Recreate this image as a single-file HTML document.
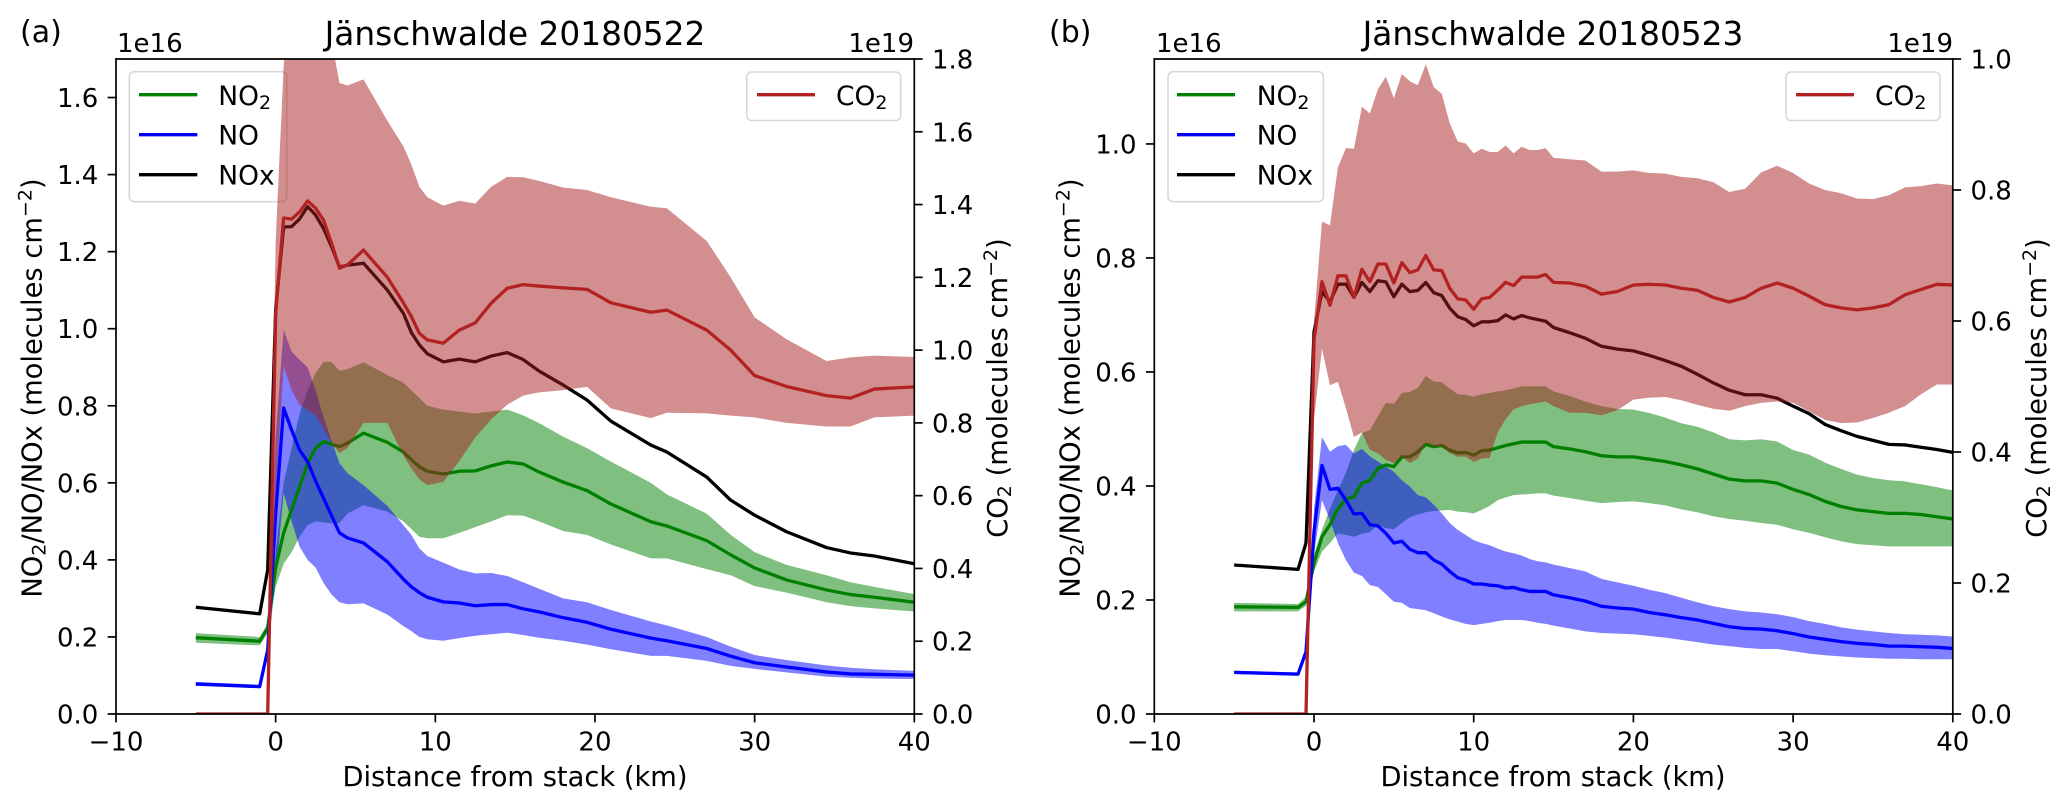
<!DOCTYPE html>
<html lang="en">
<head>
<meta charset="utf-8">
<title>Jänschwalde plume profiles</title>
<style>
html,body{margin:0;padding:0;background:#fff;}
svg{display:block;}
text{font-family:"DejaVu Sans","Liberation Sans",sans-serif;fill:#000;}
.tick-text{font-size:26px;}
.axis-title{font-size:27.3px;}
.plot-title{font-size:32.8px;}
.legend-text{font-size:26.5px;}
</style>
</head>
<body>
<svg id="figure" xmlns="http://www.w3.org/2000/svg" width="2067" height="808" viewBox="0 0 2067 808">
<defs>
<clipPath id="clip-a"><rect x="116" y="59" width="798.3" height="655"/></clipPath>
<clipPath id="clip-b"><rect x="1154.3" y="59" width="798.5" height="655"/></clipPath>
</defs>

<!-- Panel (a) -->
<g>
<g id="a-left-marks" clip-path="url(#clip-a)"></g>
<g>
<rect x="129.3" y="71.7" width="157.4" height="130" rx="5" fill="#fff" fill-opacity="0.8" stroke="#d8d8d8" stroke-width="1.6"/>
<line x1="139" x2="197.3" y1="94.7" y2="94.7" stroke="#008000" stroke-width="3.3"/>
<text class="legend-text" x="218.3" y="105">NO<tspan font-size="19" dy="4">2</tspan></text>
<line x1="139" x2="197.3" y1="134.7" y2="134.7" stroke="#0000ff" stroke-width="3.3"/>
<text class="legend-text" x="218.3" y="144.5">NO</text>
<line x1="139" x2="197.3" y1="174.7" y2="174.7" stroke="#000" stroke-width="3.3"/>
<text class="legend-text" x="218.3" y="184.5">NOx</text>
</g>
<g id="a-right-marks" clip-path="url(#clip-a)"></g>
<g>
<rect x="746.7" y="72" width="154" height="48.5" rx="5" fill="#fff" fill-opacity="0.8" stroke="#d8d8d8" stroke-width="1.6"/>
<line x1="757" x2="815" y1="94.7" y2="94.7" stroke="#b22222" stroke-width="3.3"/>
<text class="legend-text" x="836" y="105">CO<tspan font-size="19" dy="4">2</tspan></text>
</g>
<g id="a-axes"></g>
<text x="20" y="42" font-size="30">(a)</text>
<text class="plot-title" x="515" y="45" text-anchor="middle">Jänschwalde 20180522</text>
<text class="tick-text" x="117" y="52">1e16</text>
<text class="tick-text" x="914" y="52" text-anchor="end">1e19</text>
<text class="axis-title" x="515" y="786" text-anchor="middle">Distance from stack (km)</text>
<text class="axis-title" transform="translate(41.7 388) rotate(-90)" text-anchor="middle">NO<tspan font-size="19" dy="4">2</tspan><tspan dy="-4">/NO/NOx (molecules cm</tspan><tspan font-size="19" dy="-10">−2</tspan><tspan dy="10">)</tspan></text>
<text class="axis-title" transform="translate(1007 388) rotate(-90)" text-anchor="middle">CO<tspan font-size="19" dy="4">2</tspan><tspan dy="-4"> (molecules cm</tspan><tspan font-size="19" dy="-10">−2</tspan><tspan dy="10">)</tspan></text>
</g>

<!-- Panel (b) -->
<g>
<g id="b-left-marks" clip-path="url(#clip-b)"></g>
<g>
<rect x="1168" y="71.7" width="155.4" height="130" rx="5" fill="#fff" fill-opacity="0.8" stroke="#d8d8d8" stroke-width="1.6"/>
<line x1="1177" x2="1235" y1="94.7" y2="94.7" stroke="#008000" stroke-width="3.3"/>
<text class="legend-text" x="1256.7" y="105">NO<tspan font-size="19" dy="4">2</tspan></text>
<line x1="1177" x2="1235" y1="134.7" y2="134.7" stroke="#0000ff" stroke-width="3.3"/>
<text class="legend-text" x="1256.7" y="144.5">NO</text>
<line x1="1177" x2="1235" y1="174.7" y2="174.7" stroke="#000" stroke-width="3.3"/>
<text class="legend-text" x="1256.7" y="184.5">NOx</text>
</g>
<g id="b-right-marks" clip-path="url(#clip-b)"></g>
<g>
<rect x="1786" y="72" width="154" height="48.5" rx="5" fill="#fff" fill-opacity="0.8" stroke="#d8d8d8" stroke-width="1.6"/>
<line x1="1796" x2="1854" y1="94.7" y2="94.7" stroke="#b22222" stroke-width="3.3"/>
<text class="legend-text" x="1875" y="105">CO<tspan font-size="19" dy="4">2</tspan></text>
</g>
<g id="b-axes"></g>
<text x="1049" y="42" font-size="30">(b)</text>
<text class="plot-title" x="1553" y="45" text-anchor="middle">Jänschwalde 20180523</text>
<text class="tick-text" x="1156" y="52">1e16</text>
<text class="tick-text" x="1953" y="52" text-anchor="end">1e19</text>
<text class="axis-title" x="1553" y="786" text-anchor="middle">Distance from stack (km)</text>
<text class="axis-title" transform="translate(1079.3 388) rotate(-90)" text-anchor="middle">NO<tspan font-size="19" dy="4">2</tspan><tspan dy="-4">/NO/NOx (molecules cm</tspan><tspan font-size="19" dy="-10">−2</tspan><tspan dy="10">)</tspan></text>
<text class="axis-title" transform="translate(2046 388) rotate(-90)" text-anchor="middle">CO<tspan font-size="19" dy="4">2</tspan><tspan dy="-4"> (molecules cm</tspan><tspan font-size="19" dy="-10">−2</tspan><tspan dy="10">)</tspan></text>
</g>
</svg>

<script>
// ---------- Shared tick values ----------
const xTicks = [-10, 0, 10, 20, 30, 40];
const aLeftTicks = [0, 0.2, 0.4, 0.6, 0.8, 1.0, 1.2, 1.4, 1.6];
const aRightTicks = [0, 0.2, 0.4, 0.6, 0.8, 1.0, 1.2, 1.4, 1.6, 1.8];
const bLeftTicks = [0, 0.2, 0.4, 0.6, 0.8, 1.0];
const bRightTicks = [0, 0.2, 0.4, 0.6, 0.8, 1.0];

// ---------- Panel (a): distance (km) ----------
const aDistance = [-5,-1,-0.5,0, 0.5,1,1.5,2,2.5,3,3.5,4,4.5,5.5, 7,8,8.5,9,9.5,10.5,11.5,12.5,13.5,14.5, 15.5,16.5,18,19.5,21,23.5,24.5,27,28.5,30, 32,34.5,36,37.5,40];
// NOx family in 1e16 molecules/cm2
const aNOx = [.277,.26,.374,1.05, 1.264,1.265,1.285,1.317,1.295,1.26,1.213,1.16,1.165,1.17, 1.10,1.04,.99,.958,.935,.914,.921,.914,.929,.938, .92,.89,.854,.815,.76,.698,.68,.615,.555,.516, .473,.432,.418,.41,.39];
const aNO2 = [.198,.189,.223,.38, .47,.53,.59,.65,.69,.707,.70,.694,.703,.729, .705,.68,.66,.642,.63,.623,.63,.631,.644,.654, .649,.628,.602,.58,.545,.499,.488,.45,.413,.379, .348,.322,.31,.303,.29];
const aNO2High = [.21,.20,.235,.42, .6,.69,.78,.84,.885,.914,.914,.891,.895,.913, .88,.86,.84,.82,.80,.79,.785,.78,.785,.79, .775,.755,.72,.69,.655,.60,.57,.52,.465,.42, .387,.36,.342,.33,.311];
const aNO2Low = [.185,.178,.21,.33, .39,.42,.46,.49,.50,.497,.495,.496,.52,.542, .525,.50,.48,.46,.456,.456,.47,.485,.50,.516, .515,.50,.475,.465,.44,.404,.404,.376,.36,.332, .315,.29,.28,.274,.266];
const aNO = [.078,.071,.166,.52, .794,.737,.685,.655,.605,.56,.515,.47,.457,.444, .395,.35,.33,.315,.303,.291,.288,.281,.284,.284, .273,.265,.25,.238,.22,.197,.19,.17,.15,.133, .122,.109,.104,.103,.101];
const aNOHigh = [.083,.076,.17,.72, .997,.94,.919,.90,.84,.77,.71,.651,.625,.594, .54,.49,.465,.43,.41,.393,.375,.365,.366,.358, .342,.325,.30,.29,.27,.24,.23,.2,.175,.153, .14,.126,.12,.116,.112];
const aNOLow = [.073,.067,.16,.35, .573,.50,.434,.40,.38,.34,.31,.29,.285,.287, .258,.228,.215,.20,.194,.19,.197,.203,.207,.211, .205,.198,.19,.18,.168,.151,.151,.138,.125,.117, .108,.097,.094,.092,.091];
// CO2 in 1e19 molecules/cm2
const aCO2 = [0,0,0,1.1, 1.363,1.36,1.38,1.41,1.39,1.357,1.294,1.225,1.234,1.275, 1.20,1.13,1.092,1.046,1.028,1.019,1.055,1.075,1.129,1.17, 1.18,1.176,1.171,1.167,1.13,1.104,1.11,1.055,1.0,.93, .90,.875,.868,.893,.899];
const aCO2High = [0,0,0,1.3, 1.78,2.0,2.3,2.4,2.4,2.3,1.85,1.734,1.727,1.744, 1.63,1.56,1.51,1.449,1.42,1.397,1.41,1.403,1.449,1.476, 1.475,1.465,1.447,1.44,1.42,1.394,1.39,1.30,1.2,1.09, 1.03,.97,.98,.985,.981];
const aCO2Low = [0,0,0,.6, .956,.89,.85,.835,.82,.785,.745,.717,.731,.80, .80,.71,.675,.645,.629,.638,.695,.76,.81,.85, .875,.884,.89,.899,.84,.813,.828,.826,.82,.815, .80,.79,.79,.815,.82];

// ---------- Panel (b): distance (km) ----------
const bDistance = [-5,-1,-0.5,0, 0.5,1,1.5,2,2.5,3,3.5,4,4.5,5, 5.5,6,6.5,7,7.5,8,8.5,9,9.5,10, 10.5,11,11.5,12,12.5,13,13.5,14,14.5,15, 16,17,18,19,20,21,22,23,24,25,26,27,28,29,30,31,32,33,34,35,36,37,38,39,40];
const bNOx = [.2614,.2537,.30,.67, .741,.723,.754,.754,.731,.757,.741,.76,.758,.732, .754,.741,.743,.757,.739,.734,.712,.697,.692,.681, .688,.688,.69,.70,.693,.699,.695,.692,.689,.678, .669,.659,.645,.64,.637,.629,.62,.61,.596,.581,.568,.56,.56,.554,.54,.527,.508,.497,.487,.48,.473,.472,.468,.464,.459];
const bNO2 = [.188,.187,.197,.265, .311,.332,.36,.377,.381,.405,.41,.431,.437,.434, .451,.451,.46,.473,.469,.471,.463,.458,.459,.454, .462,.463,.467,.471,.474,.477,.477,.477,.477,.469, .465,.46,.453,.451,.451,.447,.443,.437,.43,.421,.412,.409,.409,.405,.394,.385,.373,.364,.358,.355,.352,.352,.35,.346,.342];
const bNO2High = [.195,.193,.205,.28, .323,.36,.393,.423,.463,.493,.498,.522,.546,.544, .563,.565,.572,.593,.583,.582,.571,.561,.56,.557, .561,.563,.566,.568,.571,.575,.575,.575,.575,.566, .558,.548,.54,.535,.534,.528,.52,.51,.504,.494,.482,.48,.482,.478,.463,.455,.441,.43,.42,.414,.41,.408,.403,.398,.392];
const bNO2Low = [.18,.18,.19,.25, .285,.30,.317,.314,.311,.316,.319,.332,.326,.324, .335,.345,.35,.354,.356,.357,.358,.355,.354,.352, .358,.365,.375,.38,.384,.385,.386,.387,.387,.383, .379,.374,.37,.372,.373,.37,.366,.359,.354,.347,.342,.339,.335,.332,.324,.318,.31,.303,.298,.296,.294,.294,.294,.294,.294];
const bNO = [.073,.07,.109,.32, .436,.394,.396,.375,.351,.352,.332,.33,.317,.30, .303,.289,.283,.283,.27,.263,.25,.239,.235,.228, .228,.226,.225,.221,.222,.218,.215,.215,.215,.209, .204,.198,.189,.186,.184,.178,.174,.169,.165,.159,.153,.15,.149,.146,.141,.135,.131,.127,.124,.122,.119,.119,.118,.117,.115];
const bNOHigh = [.076,.073,.113,.36, .486,.46,.47,.472,.457,.465,.452,.443,.434,.425, .41,.399,.384,.38,.367,.352,.335,.323,.314,.305, .30,.296,.29,.285,.282,.278,.272,.268,.266,.262, .256,.25,.237,.231,.225,.218,.212,.204,.196,.189,.184,.18,.178,.175,.17,.163,.158,.152,.148,.145,.142,.14,.139,.138,.136];
const bNOLow = [.07,.067,.105,.28, .375,.34,.30,.27,.248,.242,.226,.223,.21,.197, .195,.186,.184,.182,.177,.171,.166,.162,.158,.156, .158,.16,.163,.165,.165,.165,.163,.16,.158,.155, .15,.145,.142,.141,.14,.137,.134,.13,.126,.122,.119,.116,.114,.114,.11,.106,.103,.101,.099,.098,.097,.097,.096,.096,.096];
const bCO2 = [0,0,0,.571, .66,.624,.669,.669,.636,.679,.66,.687,.687,.658, .689,.674,.678,.70,.678,.677,.65,.634,.632,.618, .634,.636,.647,.659,.654,.667,.667,.667,.671,.659, .658,.653,.641,.645,.655,.656,.655,.65,.647,.636,.629,.636,.65,.658,.65,.638,.625,.62,.617,.62,.625,.64,.648,.656,.655];
const bCO2High = [0,0,0,.60, .752,.746,.835,.864,.863,.927,.917,.954,.973,.94, .977,.966,.96,.992,.957,.947,.902,.874,.871,.856, .863,.858,.858,.868,.856,.866,.861,.861,.864,.849, .847,.845,.828,.828,.83,.826,.825,.82,.818,.812,.797,.802,.827,.837,.826,.81,.80,.795,.787,.786,.792,.804,.806,.81,.807];
const bCO2Low = [0,0,0,.45, .558,.502,.507,.467,.423,.43,.403,.398,.388,.383, .393,.383,.39,.414,.408,.408,.398,.393,.393,.385, .39,.391,.43,.45,.465,.47,.473,.475,.477,.47, .46,.46,.456,.464,.48,.483,.484,.479,.472,.466,.463,.47,.475,.477,.475,.462,.449,.444,.445,.452,.46,.47,.488,.503,.503];

// ---------- Drawing ----------
const SVG_NS = 'http://www.w3.org/2000/svg';
const AXIS_TOP = 59;
const AXIS_BOTTOM = 714;

function makeX(left, right) {
  return function (km) { return left + (km + 10) / 50 * (right - left); };
}
function makeY(maxValue) {
  return function (v) { return AXIS_BOTTOM - v / maxValue * (AXIS_BOTTOM - AXIS_TOP); };
}
function linePath(xs, ys, xf, yf) {
  return xs.map(function (x, i) {
    return (i ? 'L' : 'M') + xf(x).toFixed(2) + ' ' + yf(ys[i]).toFixed(2);
  }).join('');
}
function bandPath(xs, lo, hi, xf, yf) {
  let d = linePath(xs, hi, xf, yf);
  for (let i = xs.length - 1; i >= 0; i--) {
    d += 'L' + xf(xs[i]).toFixed(2) + ' ' + yf(lo[i]).toFixed(2);
  }
  return d + 'Z';
}
function addBand(parent, name, d, color) {
  const el = document.createElementNS(SVG_NS, 'path');
  
  
  el.setAttribute('d', d);
  el.setAttribute('fill', color);
  el.setAttribute('fill-opacity', '0.5');
  el.setAttribute('stroke', 'none');
  parent.appendChild(el);
}
function addLine(parent, name, d, color) {
  const el = document.createElementNS(SVG_NS, 'path');
  
  
  el.setAttribute('d', d);
  el.setAttribute('fill', 'none');
  el.setAttribute('stroke', color);
  el.setAttribute('stroke-width', '3.3');
  el.setAttribute('stroke-linejoin', 'round');
  parent.appendChild(el);
}
function addSegment(parent, name, x1, y1, x2, y2) {
  const el = document.createElementNS(SVG_NS, 'line');
  
  
  el.setAttribute('x1', x1);
  el.setAttribute('y1', y1);
  el.setAttribute('x2', x2);
  el.setAttribute('y2', y2);
  el.setAttribute('stroke', '#000');
  el.setAttribute('stroke-width', '1.7');
  el.setAttribute('stroke-linecap', 'square');
  parent.appendChild(el);
}
function addTickLabel(parent, name, x, y, anchor, label) {
  const el = document.createElementNS(SVG_NS, 'text');
  
  
  el.setAttribute('class', 'tick-text');
  el.setAttribute('x', x);
  el.setAttribute('y', y);
  el.setAttribute('text-anchor', anchor);
  el.textContent = label;
  parent.appendChild(el);
}
function formatX(v) { return v < 0 ? '\u2212' + Math.abs(v) : String(v); }

function drawAxes(parent, left, right, xf, yLeft, yRight, leftTicks, rightTicks) {
  addSegment(parent, 'left-spine', left, AXIS_TOP, left, AXIS_BOTTOM);
  addSegment(parent, 'right-spine', right, AXIS_TOP, right, AXIS_BOTTOM);
  addSegment(parent, 'top-spine', left, AXIS_TOP, right, AXIS_TOP);
  addSegment(parent, 'bottom-spine', left, AXIS_BOTTOM, right, AXIS_BOTTOM);
  xTicks.forEach(function (t) {
    addSegment(parent, 'x-tick', xf(t), AXIS_BOTTOM, xf(t), AXIS_BOTTOM + 7.5);
    addTickLabel(parent, 'x-tick-label', xf(t), 750.7, 'middle', formatX(t));
  });
  leftTicks.forEach(function (t) {
    addSegment(parent, 'left-y-tick', left, yLeft(t), left - 7.5, yLeft(t));
    addTickLabel(parent, 'left-y-tick-label', left - 17.7, yLeft(t) + 9.5, 'end', t.toFixed(1));
  });
  rightTicks.forEach(function (t) {
    addSegment(parent, 'right-y-tick', right, yRight(t), right + 7.5, yRight(t));
    addTickLabel(parent, 'right-y-tick-label', right + 17.7, yRight(t) + 9.5, 'start', t.toFixed(1));
  });
}

// Panel (a)
(function () {
  const left = 116, right = 914.3;
  const xf = makeX(left, right);
  const yL = makeY(1.7);
  const yR = makeY(1.8);
  const lg = document.getElementById('a-left-marks');
  const rg = document.getElementById('a-right-marks');
  addBand(lg, 'no2-uncertainty-band', bandPath(aDistance, aNO2Low, aNO2High, xf, yL), '#008000');
  addBand(lg, 'no-uncertainty-band', bandPath(aDistance, aNOLow, aNOHigh, xf, yL), '#0000ff');
  addLine(lg, 'no2-line', linePath(aDistance, aNO2, xf, yL), '#008000');
  addLine(lg, 'no-line', linePath(aDistance, aNO, xf, yL), '#0000ff');
  addLine(lg, 'nox-line', linePath(aDistance, aNOx, xf, yL), '#000000');
  addBand(rg, 'co2-uncertainty-band', bandPath(aDistance, aCO2Low, aCO2High, xf, yR), '#a82020');
  addLine(rg, 'co2-line', linePath(aDistance, aCO2, xf, yR), '#b22222');
  drawAxes(document.getElementById('a-axes'), left, right, xf, yL, yR, aLeftTicks, aRightTicks);
})();

// Panel (b)
(function () {
  const left = 1154.3, right = 1952.8;
  const xf = makeX(left, right);
  const yL = makeY(1.149);
  const yR = makeY(1.0);
  const lg = document.getElementById('b-left-marks');
  const rg = document.getElementById('b-right-marks');
  addBand(lg, 'no2-uncertainty-band', bandPath(bDistance, bNO2Low, bNO2High, xf, yL), '#008000');
  addBand(lg, 'no-uncertainty-band', bandPath(bDistance, bNOLow, bNOHigh, xf, yL), '#0000ff');
  addLine(lg, 'no2-line', linePath(bDistance, bNO2, xf, yL), '#008000');
  addLine(lg, 'no-line', linePath(bDistance, bNO, xf, yL), '#0000ff');
  addLine(lg, 'nox-line', linePath(bDistance, bNOx, xf, yL), '#000000');
  addBand(rg, 'co2-uncertainty-band', bandPath(bDistance, bCO2Low, bCO2High, xf, yR), '#a82020');
  addLine(rg, 'co2-line', linePath(bDistance, bCO2, xf, yR), '#b22222');
  drawAxes(document.getElementById('b-axes'), left, right, xf, yL, yR, bLeftTicks, bRightTicks);
})();
</script>
</body>
</html>
